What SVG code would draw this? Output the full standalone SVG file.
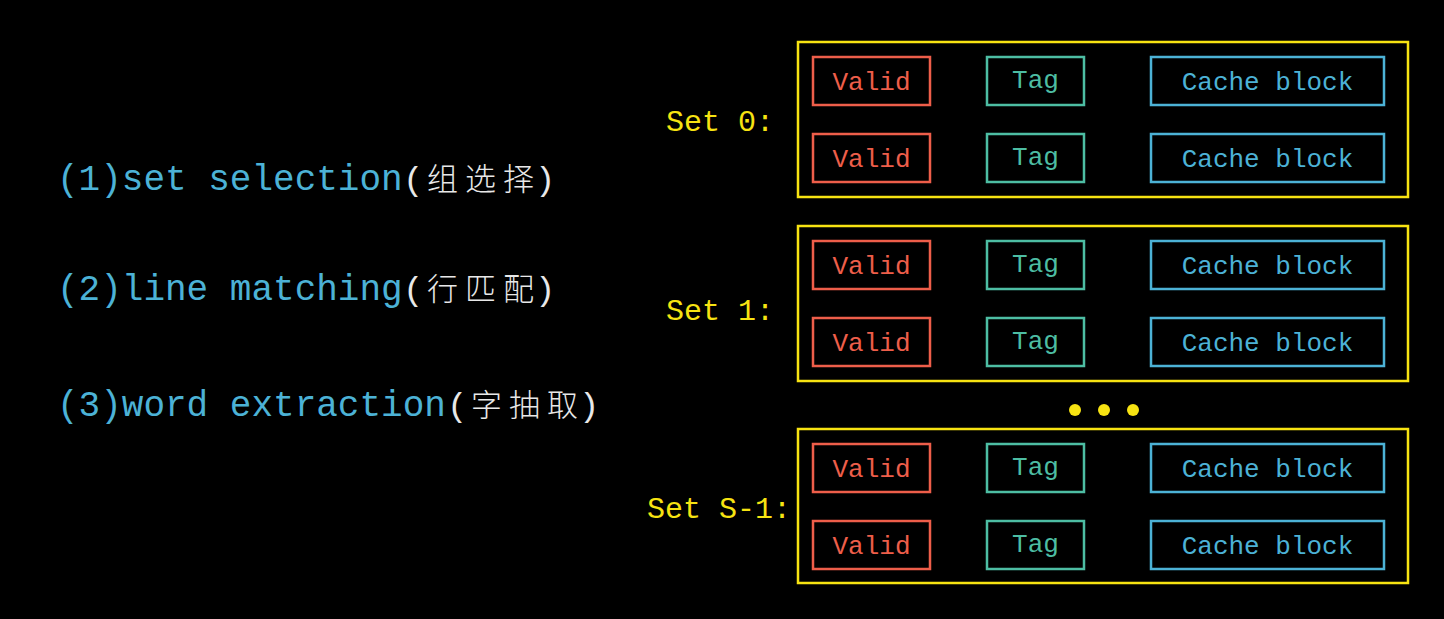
<svg xmlns="http://www.w3.org/2000/svg" width="1444" height="619" viewBox="0 0 1444 619">
<style>
.bg{fill:#000}
.set{fill:none;stroke:#f7e312;stroke-width:2.5}
.v{fill:none;stroke:#ee5e4a;stroke-width:2.5}
.t{fill:none;stroke:#4dbda3;stroke-width:2.5}
.c{fill:none;stroke:#4cb2d6;stroke-width:2.5}
.mono{font-family:"Liberation Mono","DejaVu Sans Mono",monospace}
.vt{fill:#ee5e4a;font-size:26px;text-anchor:middle}
.tt{fill:#4dbda3;font-size:26px;text-anchor:middle}
.ct{fill:#4cb2d6;font-size:26px;text-anchor:middle}
.lbl{fill:#f7e312;font-size:30px;text-anchor:end}
.step{fill:#4cb2d6;font-size:36px}
.par{fill:#e8e8e8;font-size:34px}
.cn{fill:#e8e8e8;font-family:"Noto Sans CJK SC","Noto Sans",sans-serif;font-size:31px;font-weight:300}
</style>
<defs>
<g id="row">
<rect class="v" x="813" y="0" width="117" height="48"/>
<rect class="t" x="987" y="0" width="97" height="48"/>
<rect class="c" x="1151" y="0" width="233" height="48"/>
<text class="mono vt" x="871.5" y="33">Valid</text>
<text class="mono tt" x="1035.5" y="31">Tag</text>
<text class="mono ct" x="1267.5" y="33">Cache block</text>
</g>
</defs>
<rect class="bg" x="0" y="0" width="1444" height="619"/>
<g id="steps">
<text class="mono step" x="57" y="190">(1)set selection</text>
<text class="mono par" x="403" y="190">(</text>
<text class="cn" x="427 465 503" y="190">组选择</text>
<text class="mono par" x="535" y="190">)</text>
<text class="mono step" x="57" y="300">(2)line matching</text>
<text class="mono par" x="403" y="300">(</text>
<text class="cn" x="427 465 503" y="300">行匹配</text>
<text class="mono par" x="535" y="300">)</text>
<text class="mono step" x="57" y="416">(3)word extraction</text>
<text class="mono par" x="447" y="416">(</text>
<text class="cn" x="471 509 547" y="416">字抽取</text>
<text class="mono par" x="579" y="416">)</text>
</g>
<g id="set0">
<rect class="set" x="798" y="42" width="610" height="155"/>
<text class="mono lbl" x="774" y="131">Set 0:</text>
<use href="#row" y="57"/>
<use href="#row" y="134"/>
</g>
<g id="set1">
<rect class="set" x="798" y="226" width="610" height="155"/>
<text class="mono lbl" x="774" y="320">Set 1:</text>
<use href="#row" y="241"/>
<use href="#row" y="318"/>
</g>
<g id="dots" fill="#f7e312">
<circle cx="1075" cy="410" r="6"/>
<circle cx="1104" cy="410" r="6"/>
<circle cx="1133" cy="410" r="6"/>
</g>
<g id="setS1">
<rect class="set" x="798" y="429" width="610" height="154"/>
<text class="mono lbl" x="791" y="518">Set S-1:</text>
<use href="#row" y="444"/>
<use href="#row" y="521"/>
</g>
<g id="connectors"/>
</svg>
